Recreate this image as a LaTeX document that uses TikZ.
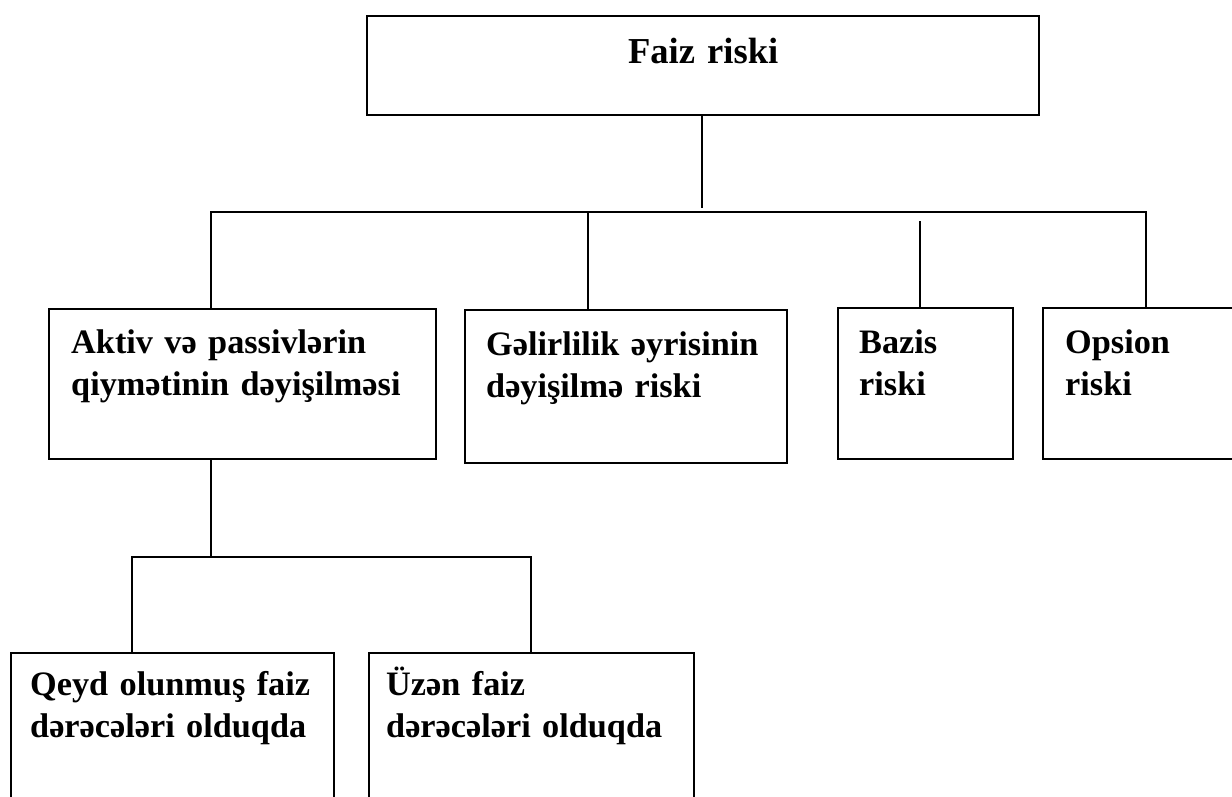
\documentclass[tikz,border=0pt]{standalone}
\usepackage{fontspec}
\setmainfont{Liberation Serif}
\tikzset{
    riskbox/.style={draw,line width=1.4pt,anchor=north west,align=left,inner ysep=0pt,
        font=\fontsize{19.5}{23.8}\selectfont\bfseries},
    headbox/.style={riskbox,align=center,font=\fontsize{20.8}{24}\selectfont\bfseries},
    link/.style={line width=1.1pt},
}

\begin{document}
\begin{tikzpicture}[x=0.02cm,y=-0.02cm]
    \clip (0,0) rectangle (1232,796);

    \node[headbox,inner xsep=0.2cm,text width=13.04cm,text height=0.94cm,text depth=1.04cm]
        (faiz) at (366,15) {Faiz riski};

    \node[riskbox,inner xsep=0.44cm,text width=6.86cm,text height=0.88cm,text depth=2.12cm]
        (aktiv) at (48,308) {Aktiv və passivlərin\\qiymətinin dəyişilməsi};
    \node[riskbox,inner xsep=0.42cm,text width=5.6cm,text height=0.9cm,text depth=2.16cm]
        (gelir) at (464,309) {Gəlirlilik əyrisinin\\dəyişilmə riski};
    \node[riskbox,inner xsep=0.42cm,text width=2.66cm,text height=0.9cm,text depth=2.12cm]
        (bazis) at (837,307) {Bazis\\riski};
    \node[riskbox,inner xsep=0.44cm,text width=3.28cm,text height=0.9cm,text depth=2.12cm]
        (opsion) at (1042,307) {Opsion\\riski};

    \node[riskbox,inner xsep=0.38cm,text width=5.7cm,text height=0.84cm,text depth=2.44cm]
        (qeyd) at (10,652) {Qeyd olunmuş faiz\\dərəcələri olduqda};
    \node[riskbox,inner xsep=0.34cm,text width=5.82cm,text height=0.84cm,text depth=2.44cm]
        (uzen) at (368,652) {Üzən faiz\\dərəcələri olduqda};

    % upper level
    \coordinate (hub) at (702,208);
    \coordinate (busL) at (211,212);
    \coordinate (busR) at (1146,212);
    \coordinate (busG) at (588,212);
    \coordinate (busB) at (920,221);
    \draw[link] (faiz.south -| hub) -- (hub);
    \draw[link] (aktiv.north -| busL) -- (busL) -- (busR) -- (busR |- opsion.north);
    \draw[link] (busG) -- (busG |- gelir.north);
    \draw[link] (busB) -- (busB |- bazis.north);

    % lower level
    \coordinate (sub) at (211,557);
    \coordinate (subL) at (132,557);
    \coordinate (subR) at (531,557);
    \draw[link] (aktiv.south -| sub) -- (sub);
    \draw[link] (subL |- qeyd.north) -- (subL) -- (subR) -- (subR |- uzen.north);
\end{tikzpicture}
\end{document}
